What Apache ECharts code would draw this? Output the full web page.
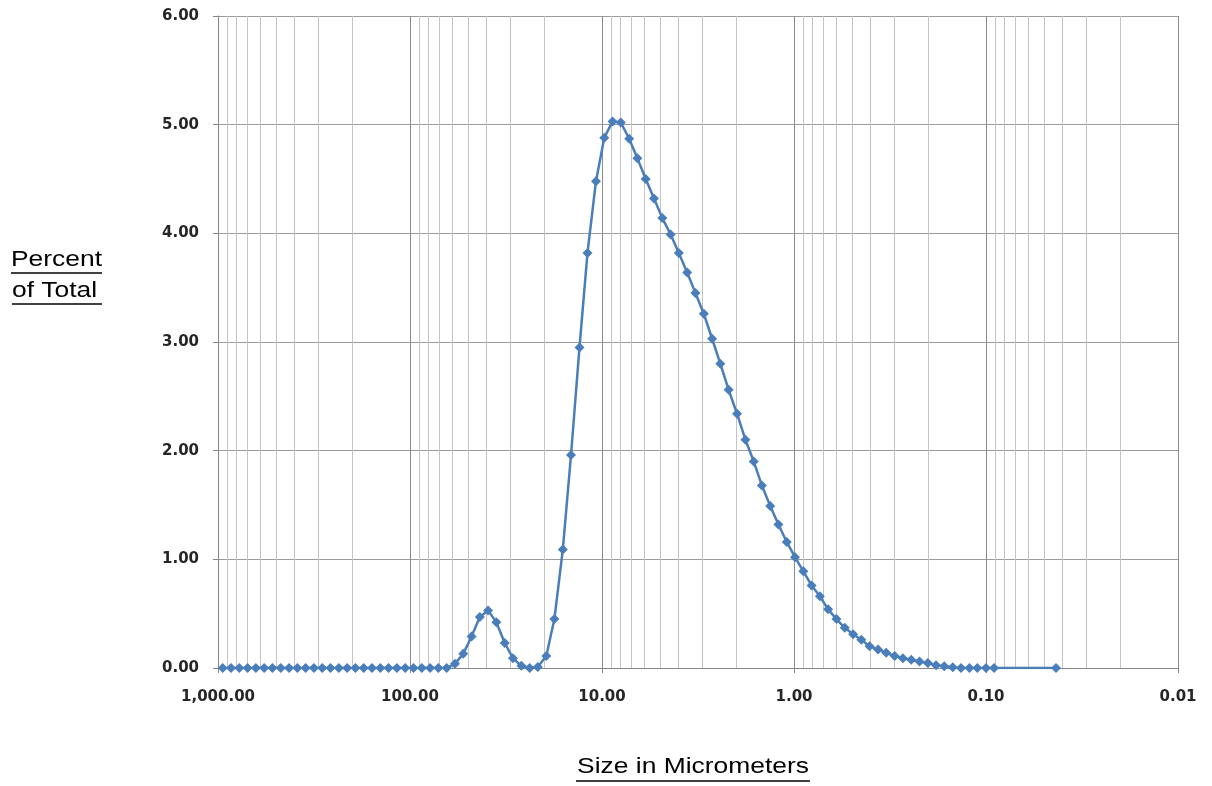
<!DOCTYPE html>
<html>
<head>
<meta charset="utf-8">
<title>Size distribution</title>
<script src="https://cdn.jsdelivr.net/npm/echarts@6/dist/echarts.min.js"></script>
<style>
  html, body { margin: 0; padding: 0; background: #fff; }
  #chart { width: 1212px; height: 786px; }
</style>
</head>
<body>
<div id="chart"></div>
<script>
// particle size channels (micrometers)
const sizes = [
  945.2, 855.6, 774.6, 701.3, 634.9, 574.8, 520.4, 471.1, 426.5, 386.1,
  349.6, 316.5, 286.5, 259.4, 234.8, 212.6, 192.5, 174.2, 157.7, 142.8,
  129.3, 117.0, 105.9, 95.9, 86.8, 78.6, 71.2, 64.4, 58.3, 52.8,
  47.8, 43.3, 39.2, 35.5, 32.1, 29.1, 26.3, 23.8, 21.6, 19.5,
  17.7, 16.0, 14.5, 13.1, 11.9, 10.75, 9.73, 8.81, 7.98, 7.22,
  6.54, 5.92, 5.36, 4.85, 4.39, 3.98, 3.60, 3.26, 2.95, 2.67,
  2.42, 2.19, 1.98, 1.79, 1.62, 1.47, 1.33, 1.205, 1.091, 0.988,
  0.894, 0.810, 0.733, 0.664, 0.601, 0.544, 0.492, 0.446, 0.404, 0.365,
  0.331, 0.299, 0.271, 0.245, 0.222, 0.201, 0.182, 0.165, 0.149, 0.135,
  0.122, 0.111, 0.100, 0.0908, 0.0432
];

// percent of total for each channel
const percents = [
  0, 0, 0, 0, 0, 0, 0, 0, 0, 0,
  0, 0, 0, 0, 0, 0, 0, 0, 0, 0,
  0, 0, 0, 0, 0, 0, 0, 0, 0.04, 0.13,
  0.29, 0.47, 0.53, 0.42, 0.23, 0.09, 0.02, 0.00, 0.01, 0.11,
  0.45, 1.09, 1.96, 2.95, 3.82, 4.48, 4.88, 5.03, 5.02, 4.87,
  4.69, 4.50, 4.32, 4.14, 3.99, 3.82, 3.64, 3.45, 3.26, 3.03,
  2.80, 2.56, 2.34, 2.10, 1.90, 1.68, 1.49, 1.32, 1.16, 1.02,
  0.89, 0.76, 0.66, 0.54, 0.45, 0.37, 0.31, 0.26, 0.20, 0.17,
  0.14, 0.11, 0.09, 0.075, 0.06, 0.045, 0.025, 0.015, 0.008, 0,
  0, 0, 0, 0, 0
];

const yTitle = ['Percent', 'of Total'];
const xTitle = 'Size in Micrometers';

// light gridlines at 2..9 inside each decade
const decades = [0.01, 0.1, 1, 10, 100];
const minorLines = [];
decades.forEach(d => {
  for (let k = 2; k <= 9; k++) minorLines.push({ xAxis: k * d });
});

const labelFont = {
  color: '#262626',
  fontFamily: 'DejaVu Sans',
  fontWeight: 'bold',
  fontSize: 15
};

const chart = echarts.init(document.getElementById('chart'), null, { renderer: 'canvas' });

chart.setOption({
  animation: false,
  backgroundColor: '#fff',
  grid: { left: 218, right: 34, top: 16, bottom: 118 },
  xAxis: {
    type: 'log',
    logBase: 10,
    min: 0.01,
    max: 1000,
    inverse: true,
    axisLine: { show: true, onZero: false, lineStyle: { color: '#868686', width: 1 } },
    axisTick: { show: true, length: 5, lineStyle: { color: '#868686' } },
    axisLabel: Object.assign({
      margin: 22,
      formatter: v => Number(v).toLocaleString('en-US', { minimumFractionDigits: 2, maximumFractionDigits: 2 })
    }, labelFont),
    splitLine: { show: true, lineStyle: { color: '#8c8c8c', width: 1 } }
  },
  yAxis: {
    type: 'value',
    min: 0,
    max: 6,
    interval: 1,
    axisLine: { show: true, onZero: false, lineStyle: { color: '#868686', width: 1 } },
    axisTick: { show: true, length: 5, lineStyle: { color: '#868686' } },
    axisLabel: Object.assign({
      margin: 19,
      formatter: v => v.toFixed(2)
    }, labelFont),
    splitLine: { show: true, lineStyle: { color: '#9c9c9c', width: 1 } }
  },
  series: [
    {
      type: 'line',
      data: [],
      silent: true,
      z: 1,
      markLine: {
        silent: true,
        symbol: ['none', 'none'],
        label: { show: false },
        lineStyle: { color: '#c4c4c4', type: 'solid', width: 1 },
        data: minorLines
      }
    },
    {
      name: 'Percent',
      type: 'line',
      z: 5,
      data: sizes.map((s, i) => [s, percents[i]]),
      symbol: 'diamond',
      symbolSize: 10,
      lineStyle: { color: '#4a7ebb', width: 2.5 },
      itemStyle: { color: '#4a7ebb' }
    }
  ],
  graphic: [
    {
      type: 'text', x: 11, y: 249, scaleX: 1.2,
      style: { text: yTitle[0], font: '22px "Liberation Sans", Arial, sans-serif', fill: '#000', textVerticalAlign: 'top' }
    },
    { type: 'line', shape: { x1: 11, y1: 273, x2: 102, y2: 273 }, style: { stroke: '#000', lineWidth: 1.5 } },
    {
      type: 'text', x: 12, y: 280, scaleX: 1.2,
      style: { text: yTitle[1], font: '22px "Liberation Sans", Arial, sans-serif', fill: '#000', textVerticalAlign: 'top' }
    },
    { type: 'line', shape: { x1: 12, y1: 304, x2: 102, y2: 304 }, style: { stroke: '#000', lineWidth: 1.5 } },
    {
      type: 'text', x: 693, y: 756, scaleX: 1.2,
      style: { text: xTitle, font: '22px "Liberation Sans", Arial, sans-serif', fill: '#000', textAlign: 'center', textVerticalAlign: 'top' }
    },
    { type: 'line', shape: { x1: 576, y1: 781, x2: 810, y2: 781 }, style: { stroke: '#000', lineWidth: 1.5 } }
  ]
});
</script>
</body>
</html>
